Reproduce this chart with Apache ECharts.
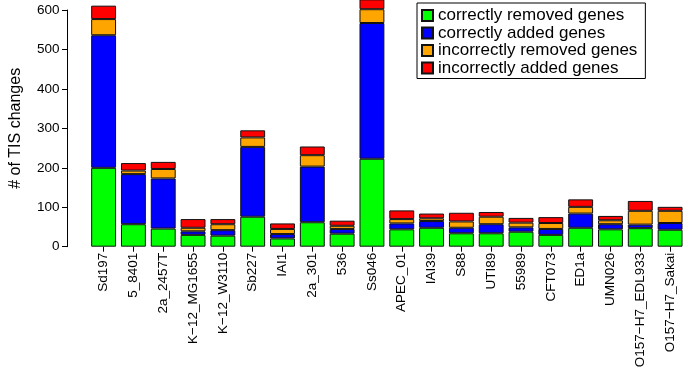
<!DOCTYPE html>
<html>
<head>
<meta charset="utf-8">
<title>TIS changes</title>
<script src="https://cdn.jsdelivr.net/npm/echarts@6/dist/echarts.min.js"></script>
<style>
  html, body { margin: 0; padding: 0; background: #fff; }
  #chart { width: 685px; height: 374px; }
</style>
</head>
<body>
<div id="chart"></div>
<script>
// 菌株名称
var strains = ['Sd197', '5_8401', '2a_2457T', 'K\u221212_MG1655', 'K\u221212_W3110', 'Sb227', 'IAI1', '2a_301', '536', 'Ss046',
    'APEC_01', 'IAI39', 'S88', 'UTI89', '55989', 'CFT073', 'ED1a', 'UMN026', 'O157\u2212H7_EDL933', 'O157\u2212H7_Sakai'];

// 各部分数值 (从下到上堆叠)
var correctlyRemoved   = [200, 57, 46, 30, 28, 76, 21, 62, 33, 223, 44, 48, 34, 34, 38, 30, 48, 44, 47, 43];
var correctlyAdded     = [336, 127, 127, 9, 14, 177, 11, 141, 12, 344, 15, 17, 14, 23, 11, 15, 36, 13, 9, 17];
var incorrectlyRemoved = [41, 9, 24, 9, 15, 24, 13, 29, 8, 35, 11, 7, 16, 19, 12, 15, 17, 10, 35, 31];
var incorrectlyAdded   = [34, 19, 18, 22, 13, 18, 14, 22, 13, 25, 22, 12, 22, 12, 12, 15, 19, 11, 25, 10];

var seriesNames = ['correctly removed genes', 'correctly added genes', 'incorrectly removed genes', 'incorrectly added genes'];
var yTicks = [0, 100, 200, 300, 400, 500, 600];

var myChart = echarts.init(document.getElementById('chart'));
var fontName = 'Liberation Sans';

function makeSeries(name, values, color) {
    return {
        name: name,
        type: 'bar',
        stack: 'all',
        data: values,
        clip: false, //Ss046 超出 600
        barCategoryGap: '16.5%',
        itemStyle: {
            color: color,
            borderColor: '#111',
            borderWidth: 1
        }
    };
}

var option = {
    animation: false,
    textStyle: { fontFamily: fontName },
    grid: {
        left: 81,
        right: -2,
        top: 10,
        bottom: 127.3
    },
    legend: {
        orient: 'vertical',
        left: 417,
        top: 3,
        padding: [4, 8, 2, 4],
        itemWidth: 11,
        itemHeight: 11,
        itemGap: 0.5,
        icon: 'rect',
        borderColor: '#000',
        borderWidth: 1,
        data: seriesNames,
        textStyle: {
            fontFamily: fontName,
            fontSize: 17,
            lineHeight: 14,
            color: '#000'
        }
    },
    xAxis: {
        type: 'category',
        data: strains,
        axisLine: { show: false },
        axisTick: {
            show: true,
            alignWithLabel: true,
            length: 5,
            lineStyle: { color: '#000' }
        },
        axisLabel: {
            rotate: 90,
            margin: 6,
            interval: 0,
            fontFamily: fontName,
            fontSize: 13.5,
            color: '#000'
        }
    },
    yAxis: {
        type: 'value',
        min: yTicks[0],
        max: yTicks[yTicks.length - 1],
        interval: 100,
        offset: 21.7,
        name: '# of TIS changes',
        nameLocation: 'middle',
        nameGap: 43,
        nameTextStyle: {
            fontFamily: fontName,
            fontSize: 16,
            color: '#000'
        },
        axisLine: { show: true, lineStyle: { color: '#000' } },
        axisTick: { show: true, length: 5, lineStyle: { color: '#000' } },
        splitLine: { show: false },
        axisLabel: {
            margin: 7.5,
            fontFamily: fontName,
            fontSize: 13.5,
            color: '#000'
        }
    },
    series: [
        makeSeries(seriesNames[0], correctlyRemoved, '#00ff00'),
        makeSeries(seriesNames[1], correctlyAdded, '#0000ff'),
        makeSeries(seriesNames[2], incorrectlyRemoved, '#ffa500'),
        makeSeries(seriesNames[3], incorrectlyAdded, '#ff0000')
    ]
};

myChart.setOption(option);
</script>
</body>
</html>
